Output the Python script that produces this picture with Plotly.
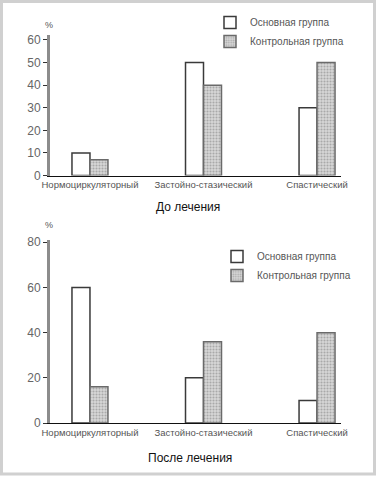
import plotly.graph_objects as go

categories = ["Нормоциркуляторный", "Застойно-стазический", "Спастический"]
series_names = ["Основная группа", "Контрольная группа"]
before_main = [10, 50, 30]
before_control = [7, 40, 50]
after_main = [60, 20, 10]
after_control = [16, 36, 40]
top_title = "До лечения"
bottom_title = "После лечения"
top_ticks = [0, 10, 20, 30, 40, 50, 60]
bottom_ticks = [0, 20, 40, 60, 80]

W, H = 379, 478
FONT = "Liberation Sans, Arial, sans-serif"
xpos = list(range(len(categories)))

def px_y(p):
    return 1 - p / H

white_marker = dict(color="white", line=dict(color="#3a3a3a", width=1.5))
grey_marker = dict(color="#d0d0d0", line=dict(color="#6a6a6a", width=1.5),
                   pattern=dict(shape=".", fgcolor="#7a7a7a", bgcolor="#d8d8d8",
                                size=3, solidity=0.4))

fig = go.Figure()
fig.add_trace(go.Bar(x=xpos, y=before_main, name=series_names[0], marker=white_marker,
                     xaxis="x", yaxis="y", legend="legend", offsetgroup="a"))
fig.add_trace(go.Bar(x=xpos, y=before_control, name=series_names[1], marker=grey_marker,
                     xaxis="x", yaxis="y", legend="legend", offsetgroup="b"))
fig.add_trace(go.Bar(x=xpos, y=after_main, name=series_names[0], marker=white_marker,
                     xaxis="x2", yaxis="y2", legend="legend2", offsetgroup="a"))
fig.add_trace(go.Bar(x=xpos, y=after_control, name=series_names[1], marker=grey_marker,
                     xaxis="x2", yaxis="y2", legend="legend2", offsetgroup="b"))

xr = [-0.352, 2.211]
xdom = [50 / W, 341 / W]
common_x = dict(range=xr, domain=xdom, tickmode="array", tickvals=xpos, ticktext=categories,
                showline=True, linecolor="#111", linewidth=1.2, ticks="", showgrid=False,
                zeroline=False, tickfont=dict(family=FONT, size=9.5, color="#555"), ticklen=0,
                automargin=False)
common_y = dict(showline=True, linecolor="#8c8c8c", linewidth=3, ticks="outside", ticklen=4,
                tickcolor="#333", tickwidth=1, showgrid=False, zeroline=False,
                tickfont=dict(family=FONT, size=12, color="#666"), tickmode="array",
                automargin=False)

def label(text, x, y, size, color):
    return dict(text=text, x=x / W, y=px_y(y), xref="paper", yref="paper", showarrow=False,
                xanchor="center", yanchor="middle",
                font=dict(family=FONT, size=size, color=color))

fig.update_layout(
    width=W, height=H,
    margin=dict(l=0, r=0, t=0, b=0),
    paper_bgcolor="white", plot_bgcolor="white",
    barmode="group", bargap=0.683, bargroupgap=0,
    font=dict(family=FONT),
    xaxis=dict(anchor="y", **common_x),
    yaxis=dict(anchor="x", range=[0, 62.2], domain=[px_y(175.5), px_y(35)],
               tickvals=top_ticks, **common_y),
    xaxis2=dict(anchor="y2", **common_x),
    yaxis2=dict(anchor="x2", range=[0, 81], domain=[px_y(423), px_y(240)],
                tickvals=bottom_ticks, **common_y),
    legend=dict(x=210 / W, y=px_y(8), xanchor="left", yanchor="top",
                font=dict(family=FONT, size=10, color="#555"), bgcolor="rgba(0,0,0,0)",
                itemwidth=30, tracegroupgap=0),
    legend2=dict(x=217 / W, y=px_y(242), xanchor="left", yanchor="top",
                 font=dict(family=FONT, size=10, color="#555"), bgcolor="rgba(0,0,0,0)",
                 itemwidth=30, tracegroupgap=0),
    shapes=[dict(type="rect", xref="paper", yref="paper", x0=1.5 / W, x1=374.5 / W,
                 y0=px_y(474), y1=px_y(1.5), line=dict(color="#d0d0d0", width=3))],
    annotations=[
        label("%", 49, 25, 9, "#555"),
        label("%", 49, 225, 9, "#555"),
        label(top_title, 188, 207, 12, "#111"),
        label(bottom_title, 190, 458, 12, "#111"),
    ],
)

fig.write_html("out.html", config={"displayModeBar": False},
               post_script="document.body.style.margin='0';document.body.style.overflow='hidden';")
